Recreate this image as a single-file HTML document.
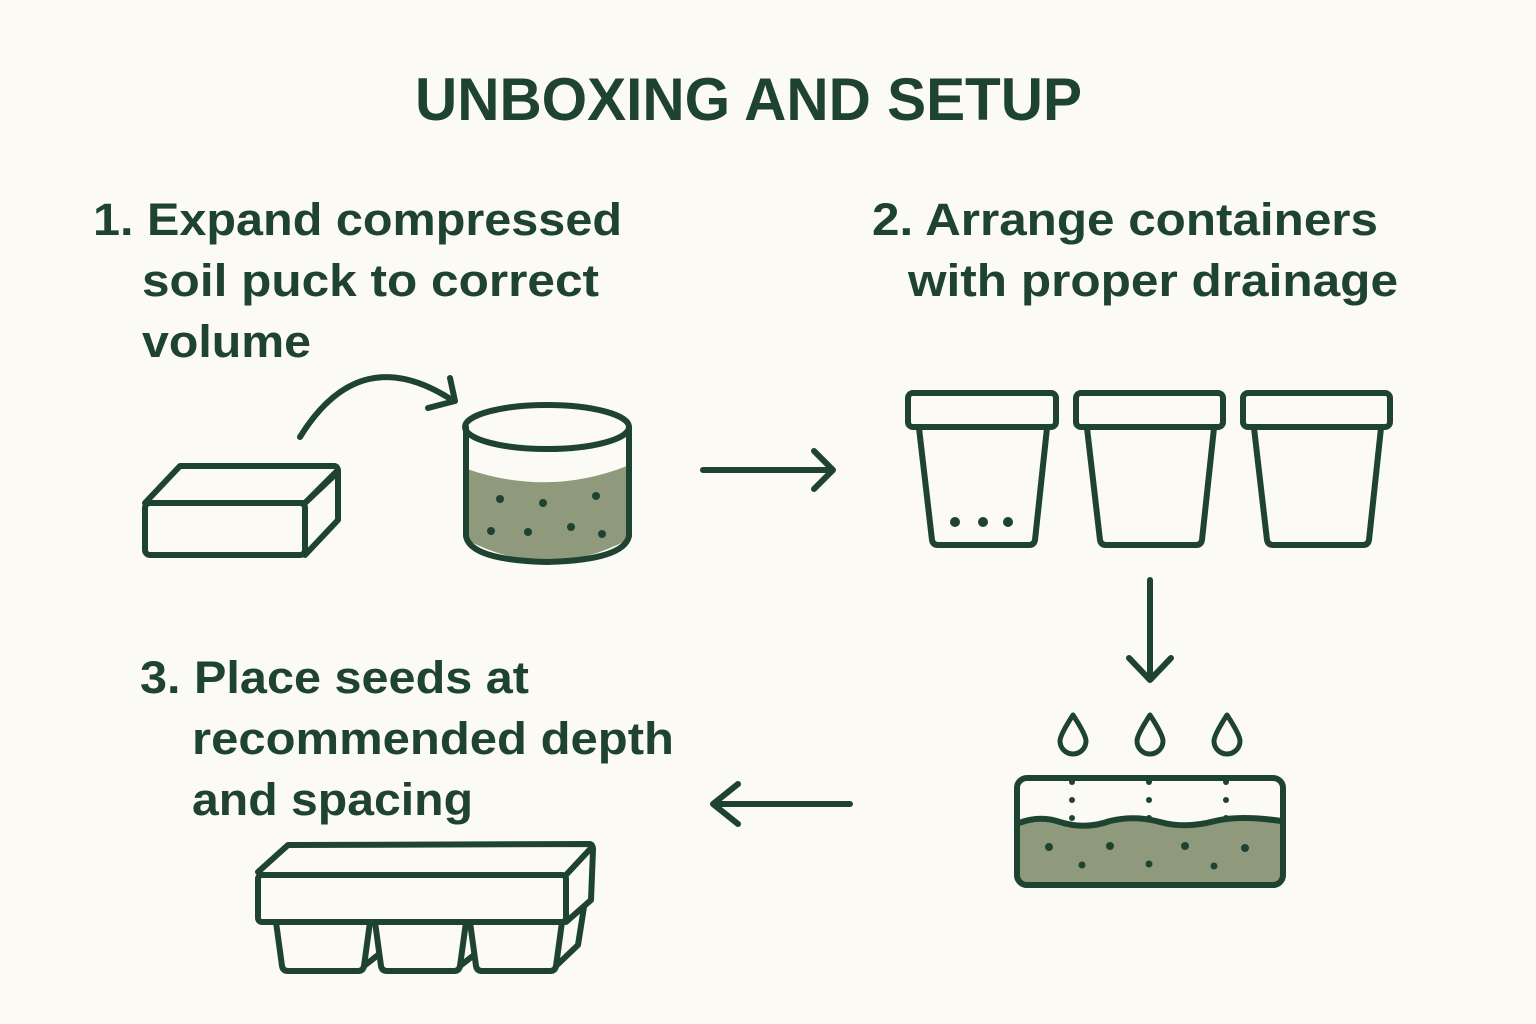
<!DOCTYPE html>
<html><head><meta charset="utf-8"><style>
html,body{margin:0;padding:0;background:#fcfaf5;}
svg{display:block}
text{font-family:"Liberation Sans",sans-serif;font-weight:bold;fill:#1f4331}
</style></head><body>
<svg width="1536" height="1024" viewBox="0 0 1536 1024" xmlns="http://www.w3.org/2000/svg">
<rect width="1536" height="1024" fill="#fcfaf5"/>
<text x="415" y="120" font-size="60" textLength="667" lengthAdjust="spacingAndGlyphs">UNBOXING AND SETUP</text>
<g font-size="45">
<text x="93" y="235" textLength="529" lengthAdjust="spacingAndGlyphs">1. Expand compressed</text>
<text x="142" y="296" textLength="457" lengthAdjust="spacingAndGlyphs">soil puck to correct</text>
<text x="142" y="357" textLength="169" lengthAdjust="spacingAndGlyphs">volume</text>
<text x="872" y="235" textLength="506" lengthAdjust="spacingAndGlyphs">2. Arrange containers</text>
<text x="908" y="296" textLength="490" lengthAdjust="spacingAndGlyphs">with proper drainage</text>
<text x="140" y="693" textLength="389" lengthAdjust="spacingAndGlyphs">3. Place seeds at</text>
<text x="192" y="754" textLength="482" lengthAdjust="spacingAndGlyphs">recommended depth</text>
<text x="192" y="815" textLength="281" lengthAdjust="spacingAndGlyphs">and spacing</text>
</g>
<g fill="none" stroke="#1f4331" stroke-width="6" stroke-linecap="round" stroke-linejoin="round">
<!-- brick -->
<path d="M145 503 L180 466 L334 466 Q338 466 338 472 L305 503 Z" fill="#fcfaf5"/>
<rect x="145" y="503" width="160" height="52" rx="5" fill="#fcfaf5"/>
<path d="M305 503 L338 470 L338 520 L305 555"/>
<!-- arc arrow -->
<path d="M300 437 Q360 340 452 400"/>
<path d="M450 378 L455 401 L428 408"/>
<!-- cylinder -->
<path d="M467 469 Q548 497 627 466 L627 540 Q548 582 467 540 Z" fill="#8f9a7d" stroke="none"/>
<path d="M466 427 L466 536 Q470 560 547 562 Q624 560 629 536 L629 427"/>
<ellipse cx="547" cy="427" rx="82" ry="22"/>
<!-- right arrow -->
<path d="M703 470 L833 470 M814 451 L833 470 L814 489"/>
<!-- pots -->
<path d="M919 428 L932 540 Q933 545 938 545 L1029 545 Q1034 545 1035 540 L1047 428"/>
<rect x="908" y="393" width="148" height="34" rx="5" fill="#fcfaf5"/>
<path d="M1087 428 L1100 540 Q1101 545 1106 545 L1196 545 Q1201 545 1202 540 L1214 428"/>
<rect x="1076" y="393" width="147" height="34" rx="5" fill="#fcfaf5"/>
<path d="M1254 428 L1267 540 Q1268 545 1273 545 L1363 545 Q1368 545 1369 540 L1381 428"/>
<rect x="1243" y="393" width="147" height="34" rx="5" fill="#fcfaf5"/>
<!-- down arrow -->
<path d="M1150 580 L1150 680 M1129 658 L1150 680 L1171 658"/>
<!-- drops -->
<path d="M1073 715 Q1060 735 1060 741 A13 13 0 0 0 1086 741 Q1086 735 1073 715 Z" stroke-width="5"/>
<path d="M1150 715 Q1137 735 1137 741 A13 13 0 0 0 1163 741 Q1163 735 1150 715 Z" stroke-width="5"/>
<path d="M1227 715 Q1214 735 1214 741 A13 13 0 0 0 1240 741 Q1240 735 1227 715 Z" stroke-width="5"/>
<!-- tray -->
<path d="M1019 823 Q1040 815 1060 822 Q1085 830 1110 821 Q1135 815 1160 822 Q1185 829 1215 821 Q1240 815 1281 821 L1281 885 L1019 885 Z" fill="#8f9a7d" stroke="none"/>
<path d="M1019 823 Q1040 815 1060 822 Q1085 830 1110 821 Q1135 815 1160 822 Q1185 829 1215 821 Q1240 815 1281 821"/>
<rect x="1017" y="778" width="266" height="107" rx="10"/>
<!-- left arrow -->
<path d="M850 804 L713 804 M738 784 L713 804 L738 824"/>
<!-- seed tray -->
<path d="M276 922 L282 966 Q283 971 288 971 L358 971 Q363 971 364 966 L370 922"/>
<path d="M375 922 L381 966 Q382 971 387 971 L454 971 Q459 971 460 966 L466 922"/>
<path d="M470 922 L476 966 Q477 971 482 971 L550 971 Q555 971 556 966 L562 922"/>
<path d="M364 966 L378 955 M460 966 L474 955 M556 966 L578 945 L584 907"/>
<path d="M258 872 L288 845 L590 844 Q593 845 593 850 L591 900 L566 922"/>
<rect x="258" y="875" width="308" height="47" rx="4" fill="#fcfaf5"/>
<path d="M566 875 L592 847"/>
</g>
<g fill="#1f4331">
<circle cx="500" cy="499" r="4"/><circle cx="543" cy="503" r="4"/><circle cx="596" cy="496" r="4"/>
<circle cx="491" cy="531" r="4"/><circle cx="528" cy="532" r="4"/><circle cx="571" cy="527" r="4"/><circle cx="602" cy="534" r="4"/>
<circle cx="955" cy="522" r="5"/><circle cx="983" cy="522" r="5"/><circle cx="1008" cy="522" r="5"/>
<circle cx="1049" cy="847" r="4"/><circle cx="1110" cy="846" r="4"/><circle cx="1185" cy="846" r="4"/><circle cx="1245" cy="848" r="4"/>
<circle cx="1082" cy="865" r="3.5"/><circle cx="1149" cy="864" r="3.5"/><circle cx="1214" cy="866" r="3.5"/>
<circle cx="1072" cy="800" r="3"/><circle cx="1149" cy="800" r="3"/><circle cx="1226" cy="800" r="3"/>
<circle cx="1072" cy="782" r="3"/><circle cx="1149" cy="782" r="3"/><circle cx="1226" cy="782" r="3"/>
<circle cx="1072" cy="818" r="3"/><circle cx="1149" cy="818" r="3"/><circle cx="1226" cy="818" r="3"/>
</g>
</svg>
</body></html>
